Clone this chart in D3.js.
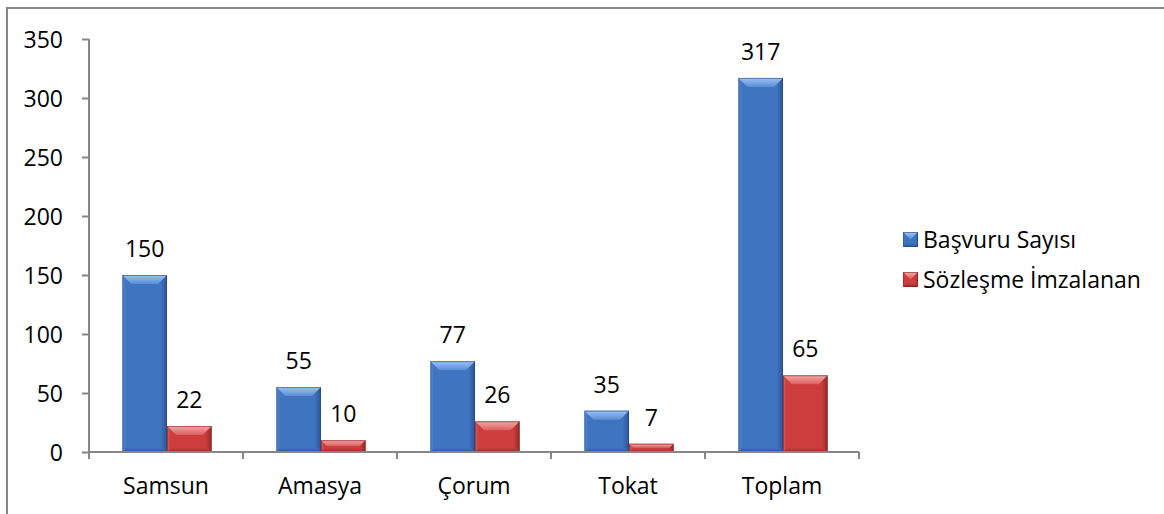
<!DOCTYPE html>
<html>
<head>
<meta charset="utf-8">
<script src="https://cdn.jsdelivr.net/npm/d3@7"></script>
<style>
  html, body { margin: 0; padding: 0; background: #fff; }
  svg { display: block; }
  text { font-family: "Open Sans", Lato, sans-serif; fill: #000; }
</style>
</head>
<body>
<svg id="chart" width="1164" height="514"></svg>
<script>
// Data
const categories = ["Samsun", "Amasya", "Çorum", "Tokat", "Toplam"];
const seriesNames = ["Başvuru Sayısı", "Sözleşme İmzalanan"];
const applications = [150, 55, 77, 35, 317];
const signed = [22, 10, 26, 7, 65];
const yTicks = [0, 50, 100, 150, 200, 250, 300, 350];

const seriesValues = [applications, signed];
const palette = [
  { main: "#3f74c0", light: "#9cc4f5", side: "#5b8dd3", dark: "#2a5597", edge: "#1f447f" },
  { main: "#cd3d3d", light: "#f5a8a8", side: "#dc5e5e", dark: "#982828", edge: "#7c1e1e" }
];
const FONT = 23;

const svg = d3.select("#chart");

// Outer frame
svg.append("rect")
  .attr("x", 7).attr("y", 8)
  .attr("width", 1200).attr("height", 600)
  .attr("fill", "none").attr("stroke", "#878787").attr("stroke-width", 2);

const plot = { left: 89, right: 859, top: 39, bottom: 452 };

const x = d3.scaleBand().domain(categories).range([plot.left, plot.right]).paddingInner(0).paddingOuter(0);
const y = d3.scaleLinear().domain([0, 350]).range([plot.bottom, plot.top]);

// Bars sit side by side in each band
const barW = x.bandwidth() * 0.29;
const groupOffset = (x.bandwidth() - 2 * barW) / 2 + 1;

// Gradients for the bevelled bar faces
const defs = svg.append("defs");
palette.forEach((c, i) => {
  const g = defs.append("linearGradient").attr("id", "body" + i)
    .attr("x1", "0").attr("x2", "1").attr("y1", "0").attr("y2", "0");
  g.append("stop").attr("offset", "0").attr("stop-color", c.side);
  g.append("stop").attr("offset", "0.08").attr("stop-color", c.main);
  g.append("stop").attr("offset", "0.86").attr("stop-color", c.main);
  g.append("stop").attr("offset", "1").attr("stop-color", c.dark);
  const t = defs.append("linearGradient").attr("id", "top" + i)
    .attr("x1", "0").attr("x2", "0").attr("y1", "0").attr("y2", "1");
  t.append("stop").attr("offset", "0").attr("stop-color", c.light);
  t.append("stop").attr("offset", "1").attr("stop-color", c.side);
  const b = defs.append("linearGradient").attr("id", "bot" + i)
    .attr("x1", "0").attr("x2", "0").attr("y1", "0").attr("y2", "1");
  b.append("stop").attr("offset", "0").attr("stop-color", c.main);
  b.append("stop").attr("offset", "1").attr("stop-color", c.dark);
});

function drawBevelBar(g, x0, y0, w, h, si) {
  const c = palette[si];
  const bev = Math.min(9, h / 2, w / 2);
  g.append("rect").attr("x", x0).attr("y", y0).attr("width", w).attr("height", h)
    .attr("fill", `url(#body${si})`);
  // top bevel
  g.append("path")
    .attr("d", `M${x0},${y0} L${x0 + w},${y0} L${x0 + w - bev},${y0 + bev} L${x0 + bev},${y0 + bev} Z`)
    .attr("fill", `url(#top${si})`);
  // bottom bevel
  const bb = Math.min(4, h / 3);
  g.append("path")
    .attr("d", `M${x0},${y0 + h} L${x0 + w},${y0 + h} L${x0 + w - bb},${y0 + h - bb} L${x0 + bb},${y0 + h - bb} Z`)
    .attr("fill", `url(#bot${si})`);
  g.append("rect").attr("x", x0 + 0.5).attr("y", y0 + 0.5).attr("width", w - 1).attr("height", h - 1)
    .attr("fill", "none").attr("stroke", c.edge).attr("stroke-opacity", 0.55).attr("stroke-width", 1);
}

const barsG = svg.append("g");
categories.forEach((cat, ci) => {
  seriesValues.forEach((vals, si) => {
    const v = vals[ci];
    const x0 = x(cat) + groupOffset + si * barW;
    const y0 = y(v);
    drawBevelBar(barsG, x0, y0, barW, y(0) - y0, si);
    svg.append("text")
      .attr("x", x0 + barW / 2)
      .attr("y", y0 - 18)
      .attr("text-anchor", "middle")
      .attr("font-size", FONT)
      .text(v);
  });
});

// Y axis
const yAxis = d3.axisLeft(y).tickValues(yTicks).tickSize(7).tickPadding(19).tickSizeOuter(0);
const yg = svg.append("g").attr("transform", `translate(${plot.left},0)`).call(yAxis);
yg.select(".domain").attr("stroke", "#868686").attr("stroke-width", 2)
  .attr("d", `M0,${plot.top}H0V${plot.bottom}`);
yg.selectAll(".tick line").attr("stroke", "#868686").attr("stroke-width", 2);
yg.selectAll(".tick text").attr("font-size", FONT).attr("font-family", "'Open Sans', Lato, sans-serif")
  .attr("fill", "#000").attr("dy", "0.36em");

// X axis
const xAxis = d3.axisBottom(x).tickSize(0).tickPadding(0);
const xg = svg.append("g").attr("transform", `translate(0,${plot.bottom})`).call(xAxis);
xg.select(".domain").attr("stroke", "#868686").attr("stroke-width", 2)
  .attr("d", `M${plot.left},0H${plot.right}`);
xg.selectAll(".tick text").attr("font-size", FONT).attr("font-family", "'Open Sans', Lato, sans-serif")
  .attr("fill", "#000").attr("dy", null).attr("y", 42);
// category separators
const seps = categories.map(c => x(c)).concat([plot.right]);
xg.selectAll("line.sep").data(seps).enter().append("line")
  .attr("class", "sep")
  .attr("x1", d => d).attr("x2", d => d).attr("y1", 0).attr("y2", 7)
  .attr("stroke", "#868686").attr("stroke-width", 2);

// Legend
const legend = svg.append("g").attr("transform", "translate(903,232)");
seriesNames.forEach((name, si) => {
  const lg = legend.append("g").attr("transform", `translate(0,${si * 40})`);
  drawBevelBar(lg, 0, 0, 15, 15, si);
  lg.append("text").attr("x", 20).attr("y", 16).attr("font-size", FONT).text(name);
});
</script>
</body>
</html>
